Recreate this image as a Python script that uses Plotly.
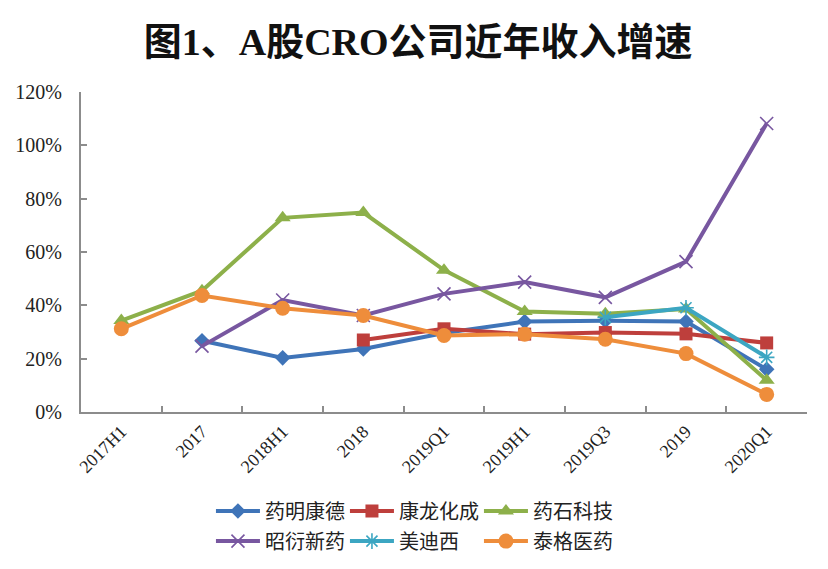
import plotly.graph_objects as go

categories = ["2017H1", "2017", "2018H1", "2018", "2019Q1", "2019H1", "2019Q3", "2019", "2020Q1"]

wuxi = [None, 0.267, 0.203, 0.236, 0.296, 0.339, 0.342, 0.339, 0.160]
kanglong = [None, None, None, 0.270, 0.312, 0.292, 0.298, 0.293, 0.259]
yaoshi = [0.343, 0.455, 0.728, 0.748, 0.532, 0.377, 0.368, 0.386, 0.119]
zhaoyan = [None, 0.247, 0.420, 0.362, 0.443, 0.487, 0.430, 0.564, 1.082]
meidixi = [None, None, None, None, None, None, 0.355, 0.391, 0.205]
taige = [0.312, 0.437, 0.389, 0.362, 0.287, 0.292, 0.273, 0.219, 0.066]

series = [
    ("药明康德", wuxi, "#3F74B8", "diamond", 12, "legend"),
    ("康龙化成", kanglong, "#BE3F3C", "square", 13, "legend"),
    ("药石科技", yaoshi, "#8DB04A", "triangle-up", 14, "legend"),
    ("昭衍新药", zhaoyan, "#7857A0", "x-thin", 13, "legend2"),
    ("美迪西", meidixi, "#3CA6C2", "asterisk", 13, "legend2"),
    ("泰格医药", taige, "#EE8D3B", "circle", 15, "legend2"),
]

fig = go.Figure()
for name, vals, color, sym, size, leg in series:
    thin = sym in ("x-thin", "asterisk")
    fig.add_trace(go.Scatter(
        x=categories, y=vals, name=name, mode="lines+markers",
        line=dict(color=color, width=4),
        marker=dict(symbol=sym, size=size, color=color,
                    line=dict(color=color, width=1.6 if thin else 0)),
        legend=leg,
    ))

axis_color = "#8C8C8C"
serif = "Liberation Serif, Times New Roman, serif"
legend_common = dict(orientation="h", x=0.179, xanchor="left", yanchor="middle", yref="container",
                     font=dict(family="Noto Sans CJK SC", size=20, color="#222222"),
                     itemwidth=44, entrywidth=75, entrywidthmode="pixels",
                     bgcolor="rgba(0,0,0,0)")
fig.update_layout(
    width=828, height=569,
    margin=dict(l=81, r=21, t=92, b=157),
    paper_bgcolor="white", plot_bgcolor="white",
    title=dict(text="<b>图1、A股CRO公司近年收入增速</b>", x=0.505, xanchor="center",
               y=0.926, yanchor="middle",
               font=dict(family="Liberation Serif, Noto Sans CJK SC", size=38, color="#111111")),
    xaxis=dict(type="category", showline=True, linecolor=axis_color, linewidth=2,
               ticks="inside", tickson="boundaries", ticklen=6, tickcolor=axis_color, tickwidth=1.5,
               tickangle=-45, tickfont=dict(family=serif, size=18, color="#222222"),
               showgrid=False, zeroline=False, automargin=False,
               range=[-0.5, 8.5]),
    yaxis=dict(range=[0, 1.2], tickvals=[0, 0.2, 0.4, 0.6, 0.8, 1.0, 1.2],
               tickformat=".0%", showline=True, linecolor=axis_color, linewidth=2,
               ticks="inside", ticklen=6, tickcolor=axis_color, tickwidth=1.5,
               tickfont=dict(family=serif, size=20, color="#222222"),
               ticklabelstandoff=13, showgrid=False, zeroline=False, automargin=False),
    legend=dict(y=0.102, **legend_common),
    legend2=dict(y=0.049, **legend_common),
    showlegend=True,
)

fig.write_html("out.html", config={"displayModeBar": False},
               post_script="document.body.style.margin='0';document.body.style.overflow='hidden';")
